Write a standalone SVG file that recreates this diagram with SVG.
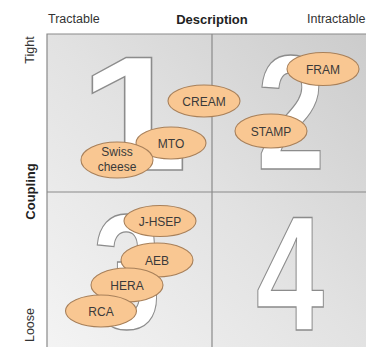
<svg xmlns="http://www.w3.org/2000/svg" width="366" height="347" viewBox="0 0 366 347">
<defs>
<linearGradient id="bg" x1="0" y1="1" x2="1" y2="0">
<stop offset="0" stop-color="#f4f4f4"/>
<stop offset="0.5" stop-color="#e2e2e2"/>
<stop offset="1" stop-color="#cbcbcb"/>
</linearGradient>
<style>
.lbl{font-family:"Liberation Sans",Arial,sans-serif;font-size:12.5px;fill:#333}
.bold{font-weight:bold;font-size:13px;fill:#222}
.grid{stroke:#8a8a8a;stroke-width:1.2;fill:none}
.dig{font-family:"Liberation Sans",Arial,sans-serif;font-weight:bold;font-size:163px;fill:#ffffff;stroke:#8c8c8c;stroke-width:1.3}
.node ellipse{fill:#f9c792;stroke:#a8805a;stroke-width:1.1}
.node text{font-family:"Liberation Sans",Arial,sans-serif;font-size:12px;fill:#3a3a3a;text-anchor:middle}
</style>
</defs>
<rect width="366" height="347" fill="#ffffff"/>
<rect x="47" y="34" width="330" height="320" fill="url(#bg)"/>
<g id="grid">
<path class="grid" d="M47,347 V34 H366 M212,34 V347 M47,192 H366"/>
</g>
<g id="axis-labels">
<text class="lbl" x="48" y="23">Tractable</text>
<text class="lbl bold" x="212" y="24" text-anchor="middle">Description</text>
<text class="lbl" x="307" y="23">Intractable</text>
<text class="lbl" transform="translate(34,50) rotate(-90)" text-anchor="middle">Tight</text>
<text class="lbl bold" transform="translate(35,191.5) rotate(-90)" text-anchor="middle">Coupling</text>
<text class="lbl" transform="translate(34,325) rotate(-90)" text-anchor="middle">Loose</text>
</g>
<g id="digits">
<text class="dig" transform="translate(79,170) scale(1.2,1)">1</text>
<text class="dig" transform="translate(291,169) scale(0.75,1)" text-anchor="middle">2</text>
<text class="dig" transform="translate(127,328) scale(0.75,1)" text-anchor="middle">3</text>
<text class="dig" transform="translate(290,330) scale(0.75,1)" text-anchor="middle">4</text>
</g>
<g id="connectors"></g>
<g id="n-cream" class="node"><ellipse cx="204" cy="101" rx="36" ry="16"/><text x="204" y="105.5">CREAM</text></g>
<g id="n-mto" class="node"><ellipse cx="171" cy="143" rx="35" ry="16"/><text x="171" y="147.5">MTO</text></g>
<g id="n-swiss" class="node"><ellipse cx="117" cy="160" rx="36" ry="18"/><text x="117" y="156">Swiss</text><text x="117" y="171">cheese</text></g>
<g id="n-fram" class="node"><ellipse cx="323" cy="69" rx="36" ry="16.5"/><text x="323" y="73.5">FRAM</text></g>
<g id="n-stamp" class="node"><ellipse cx="271" cy="131" rx="36" ry="17"/><text x="271" y="135.5">STAMP</text></g>
<g id="n-jhsep" class="node"><ellipse cx="160" cy="221" rx="36" ry="15.5"/><text x="160" y="225.5">J-HSEP</text></g>
<g id="n-aeb" class="node"><ellipse cx="157" cy="260" rx="36" ry="17"/><text x="157" y="264.5">AEB</text></g>
<g id="n-hera" class="node"><ellipse cx="127" cy="285" rx="36" ry="17"/><text x="127" y="289.5">HERA</text></g>
<g id="n-rca" class="node"><ellipse cx="101" cy="311" rx="35.5" ry="16"/><text x="101" y="315.5">RCA</text></g>
</svg>
